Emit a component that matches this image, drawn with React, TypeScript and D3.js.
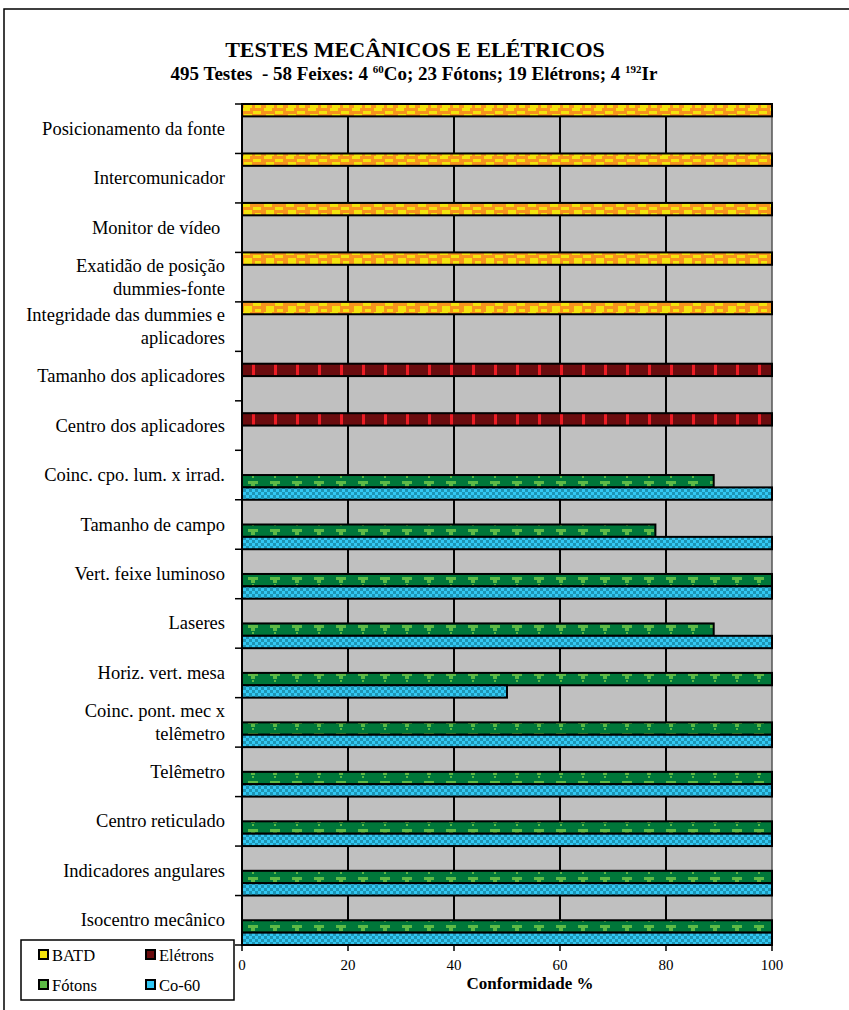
import React from "react";
import * as d3 from "d3";

const categories: string[] = [
  "Posicionamento da fonte",
  "Intercomunicador",
  "Monitor de vídeo\u00A0",
  "Exatidão de posição\ndummies-fonte",
  "Integridade das dummies e\naplicadores",
  "Tamanho dos aplicadores",
  "Centro dos aplicadores",
  "Coinc. cpo. lum. x irrad.",
  "Tamanho de campo",
  "Vert. feixe luminoso",
  "Laseres",
  "Horiz. vert. mesa",
  "Coinc. pont. mec x\ntelêmetro",
  "Telêmetro",
  "Centro reticulado",
  "Indicadores angulares",
  "Isocentro mecânico",
];

const seriesNames = ["BATD", "Elétrons", "Fótons", "Co-60"];
const batd: (number | null)[] = [100, 100, 100, 100, 100, null, null, null, null, null, null, null, null, null, null, null, null];
const eletrons: (number | null)[] = [null, null, null, null, null, 100, 100, null, null, null, null, null, null, null, null, null, null];
const fotons: (number | null)[] = [null, null, null, null, null, null, null, 89, 78, 100, 89, 100, 100, 100, 100, 100, 100];
const co60: (number | null)[] = [null, null, null, null, null, null, null, 100, 100, 100, 100, 50, 100, 100, 100, 100, 100];
const xTicks = [0, 20, 40, 60, 80, 100];

const seriesValues = [batd, eletrons, fotons, co60];
const patternIds = ["pBatd", "pEle", "pFot", "pCo"];

const W = 849;
const H = 1010;
const left = 242;
const right = 772;
const top = 104;
const bottom = 945;
const FONT = "'Liberation Serif', 'Times New Roman', serif";

export default function App() {
  const x = d3.scaleLinear().domain([0, 100]).range([left, right]);
  const y = d3.scaleBand<string>().domain(categories).range([top, bottom]).paddingInner(0).paddingOuter(0);
  const ys = d3.scaleBand<string>().domain(seriesNames).range([0, y.bandwidth()]).padding(0);

  const bars: React.ReactNode[] = [];
  seriesValues.forEach((vals, si) => {
    vals.forEach((v, ci) => {
      if (v == null) return;
      const y0 = (y(categories[ci]) as number) + (ys(seriesNames[si]) as number);
      bars.push(
        <rect
          key={`b${si}-${ci}`}
          x={x(0)}
          y={y0}
          width={x(v) - x(0)}
          height={ys.bandwidth()}
          fill={`url(#${patternIds[si]})`}
          stroke="#000"
          strokeWidth={2}
        />
      );
    });
  });

  return (
    <svg width={W} height={H} style={{ position: "absolute", left: 0, top: 0, background: "#fff" }} fontFamily={FONT}>
      <defs>
        <pattern id="pBatd" patternUnits="userSpaceOnUse" width={22} height={12}>
          <rect width={22} height={12} fill="#F7941D" />
          <rect x={0} y={0} width={8} height={3} fill="#F4E30C" />
          <rect x={11} y={3} width={8} height={3} fill="#F4E30C" />
          <rect x={2} y={6} width={8} height={6} fill="#F4E30C" />
          <rect x={13} y={9} width={6} height={3} fill="#F4E30C" />
        </pattern>
        <pattern id="pEle" patternUnits="userSpaceOnUse" width={22} height={12}>
          <rect width={22} height={12} fill="#6A0C0E" />
          <rect x={10} y={0} width={3} height={12} fill="#EC1C24" />
        </pattern>
        <pattern id="pFot" patternUnits="userSpaceOnUse" width={22} height={12}>
          <rect width={22} height={12} fill="#00773A" />
          <rect x={6} y={1} width={10} height={3} fill="#5DBA46" />
          <rect x={9} y={4} width={4} height={3} fill="#5DBA46" />
          <rect x={10} y={8} width={2} height={2} fill="#5DBA46" />
        </pattern>
        <pattern id="pCo" patternUnits="userSpaceOnUse" width={6} height={6}>
          <rect width={6} height={6} fill="#32C8F4" />
          <rect x={0} y={0} width={3} height={3} fill="#1E95B4" />
          <rect x={3} y={3} width={3} height={3} fill="#1E95B4" />
        </pattern>
      </defs>

      {/* outer frame */}
      <rect x={4} y={9} width={W + 10} height={H + 10} fill="none" stroke="#000" strokeWidth={1.5} />

      {/* title */}
      <text x={415} y={57} textAnchor="middle" fontWeight="bold" fontSize={22}>
        TESTES MECÂNICOS E ELÉTRICOS
      </text>
      <text x={414} y={80} textAnchor="middle" fontWeight="bold" fontSize={19} xmlSpace="preserve">
        <tspan>{"495 Testes  - 58 Feixes: 4 "}</tspan>
        <tspan fontSize={11} dy={-7}>60</tspan>
        <tspan dy={7}>{"Co; 23 Fótons; 19 Elétrons; 4 "}</tspan>
        <tspan fontSize={11} dy={-7}>192</tspan>
        <tspan dy={7}>Ir</tspan>
      </text>

      {/* plot background */}
      <rect x={left} y={top} width={right - left} height={bottom - top} fill="#C0C0C0" />
      {xTicks.slice(1, -1).map((t) => (
        <line key={`g${t}`} x1={x(t)} x2={x(t)} y1={top} y2={bottom} stroke="#000" strokeWidth={2} />
      ))}
      <line x1={right} x2={right} y1={top} y2={bottom} stroke="#555" strokeWidth={1.5} />

      {bars}

      {/* y axis */}
      <line x1={left} x2={left} y1={top} y2={bottom} stroke="#000" strokeWidth={2} />
      {d3.range(categories.length + 1).map((i) => {
        const yy = top + i * y.step();
        return <line key={`yt${i}`} x1={left - 7} x2={left} y1={yy} y2={yy} stroke="#000" strokeWidth={1.5} />;
      })}
      {categories.map((c) => {
        const lines = c.split("\n");
        const cy = (y(c) as number) + y.bandwidth() / 2;
        const lh = 23;
        return (
          <text key={c} x={225} textAnchor="end" fontSize={18.5}>
            {lines.map((l, i) => (
              <tspan key={i} x={225} y={cy + (i - (lines.length - 1) / 2) * lh + 6}>
                {l}
              </tspan>
            ))}
          </text>
        );
      })}

      {/* x axis */}
      <line x1={left} x2={right} y1={bottom} y2={bottom} stroke="#000" strokeWidth={2} />
      {xTicks.map((t) => (
        <g key={`xt${t}`}>
          <line x1={x(t)} x2={x(t)} y1={bottom} y2={bottom + 6} stroke="#000" strokeWidth={1.5} />
          <text x={x(t)} y={bottom + 25} textAnchor="middle" fontSize={15}>
            {t}
          </text>
        </g>
      ))}
      <text x={530} y={989} textAnchor="middle" fontWeight="bold" fontSize={17}>
        Conformidade %
      </text>

      {/* legend */}
      <rect x={21} y={940} width={213} height={60} fill="#fff" stroke="#000" strokeWidth={1.5} />
      {seriesNames.map((s, i) => {
        const lx = i % 2 === 0 ? 40 : 147;
        const ly = i < 2 ? 955 : 985;
        const fills = ["#F4E30C", "#6A0C0E", "#5DBA46", "#32C8F4"];
        return (
          <g key={s}>
            <rect x={lx - 1} y={ly - 5} width={9} height={9} fill={fills[i]} stroke="#000" strokeWidth={2} />
            <text x={lx + 12} y={ly + 6} fontSize={16.5}>
              {s}
            </text>
          </g>
        );
      })}
    </svg>
  );
}
